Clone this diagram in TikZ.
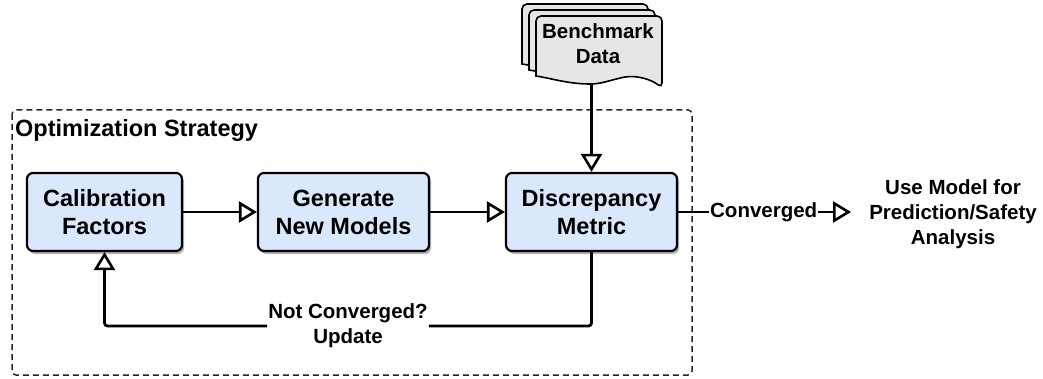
\documentclass[tikz,border=0pt]{standalone}
\usepackage{fontspec}
\setmainfont{Liberation Sans}
\usetikzlibrary{arrows.meta,shadows,positioning}
\definecolor{boxblue}{HTML}{DAE8FC}
\definecolor{docgray}{HTML}{E6E6E6}
\begin{document}
\begin{tikzpicture}[x=1pt,y=-1pt,
  procbox/.style={draw=black, line width=2.2pt, rounded corners=6pt, fill=boxblue,
    minimum height=78pt, align=center, inner sep=0pt,
    font=\fontsize{23.5}{28}\selectfont\bfseries,
    drop shadow={shadow xshift=2pt, shadow yshift=-3pt, opacity=0.3, fill=black}},
  tip/.style={-{Triangle[open, length=18pt, width=21pt, line width=2.6pt]}},
  wire/.style={line width=2.8pt},
  flow/.style={wire, tip},
  lbl/.style={fill=white, inner sep=1pt, align=center, font=\fontsize{20.5}{25}\selectfont\bfseries},
  docpage/.style={draw=black, line width=1.6pt, fill=docgray, rounded corners=5pt}
]
\useasboundingbox (0,0) rectangle (1043,379);

% dashed group
\draw[line width=1.5pt, dash pattern=on 6pt off 4pt, rounded corners=4pt, draw=black!85] (12,110) rectangle (692,375);
\node[anchor=west, inner sep=0pt, font=\fontsize{23.5}{28}\selectfont\bfseries] (title) at (15,130) {Optimization Strategy};

% process boxes
\node[procbox, minimum width=155pt] (cal) at (104.5,212) {Calibration\\Factors};
\node[procbox, minimum width=171pt] (gen) at (343.5,212) {Generate\\New Models};
\node[procbox, minimum width=171pt] (dis) at (591.5,212) {Discrepancy\\Metric};

% benchmark document stack
\foreach \dx/\dy in {-14/-12,-7/-6,0/0}{
  \begin{scope}[shift={(\dx,\dy)}]
    \draw[docpage] (536,76) -- (536,16) -- (662,16) -- (662,88)
      [sharp corners] .. controls (652,80) and (638,75) .. (625,77)
      .. controls (610,80) and (602,84) .. (590,84)
      .. controls (568,84) and (550,78) .. (536,76) -- cycle;
  \end{scope}
}
\node[align=center, inner sep=0pt, font=\fontsize{20.5}{25}\selectfont\bfseries] (bench) at (598,44) {Benchmark\\Data};
\coordinate (benchbot) at (591.5,83);

% target text
\node[align=center, inner xsep=18pt, inner ysep=0pt, font=\fontsize{20.5}{25}\selectfont\bfseries] (target) at (953,214) {Use Model for\\Prediction/Safety\\Analysis};

% connectors
\draw[flow] (cal.east) -- (gen.west);
\draw[flow] (gen.east) -- (dis.west);
\draw[flow] (benchbot) -- (dis.north);
\draw[flow] (dis.east) -- node[lbl, pos=0.495] (conv) {Converged} (dis.east -| target.west);
\node[lbl] (upd) at (348,326) {Not Converged?\\Update};
\draw[wire, rounded corners=3pt] (dis.south) |- (upd.east);
\draw[flow, rounded corners=3pt] (upd.west) -| (cal.south);
\end{tikzpicture}
\end{document}
